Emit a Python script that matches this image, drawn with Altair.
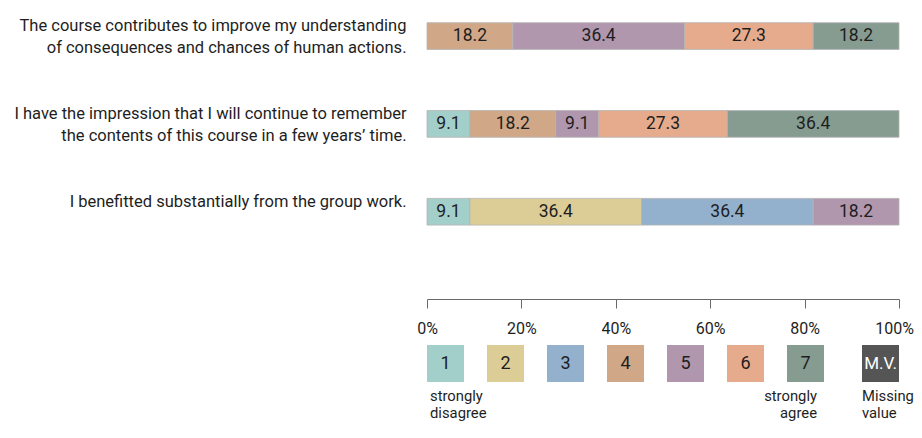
import altair as alt
import pandas as pd

FONT = "Roboto"

questions = [
    "The course contributes to improve my understanding|of consequences and chances of human actions.",
    "I have the impression that I will continue to remember|the contents of this course in a few years’ time.",
    "I benefitted substantially from the group work.",
]
q1_ratings = ["4", "5", "6", "7"]
q1_values = [18.2, 36.4, 27.3, 18.2]
q2_ratings = ["1", "4", "5", "6", "7"]
q2_values = [9.1, 18.2, 9.1, 27.3, 36.4]
q3_ratings = ["1", "2", "3", "5"]
q3_values = [9.1, 36.4, 36.4, 18.2]

rating_codes = ["1", "2", "3", "4", "5", "6", "7"]
rating_colors = ["#a3cfcb", "#dccd96", "#93b0cc", "#d0a888", "#b097ae", "#e6ab8d", "#869c91"]
legend_desc = ["strongly\ndisagree", "", "", "", "", "", "strongly\nagree"]
mv_code = ["M.V."]
mv_desc = ["Missing\nvalue"]
tick_values = [0, 0.2, 0.4, 0.6, 0.8, 1.0]

rows = []
for q, rs, vs in zip(questions, [q1_ratings, q2_ratings, q3_ratings], [q1_values, q2_values, q3_values]):
    for r, v in zip(rs, vs):
        rows.append({"question": q, "rating": r, "value": v, "order": int(r)})
df = pd.DataFrame(rows)

TXT = "#1e1e1e"
W, H = 472, 286
color_scale = alt.Scale(domain=rating_codes, range=rating_colors)
xq_scale = alt.Scale(domain=[0, 1])
yq_scale = alt.Scale(type="band", domain=questions, paddingInner=0.696, paddingOuter=0.4758, align=0.116)

# ---- stacked bars ----
base = alt.Chart(df)
bars = base.mark_bar(stroke="#b4b4b4", strokeWidth=0.8).encode(
    x=alt.X(
        "value:Q", stack="normalize", scale=xq_scale, title=None,
        axis=alt.Axis(
            format="%", values=tick_values, grid=False, domainColor="#6a6a6a", tickColor="#6a6a6a",
            tickSize=9, labelPadding=12, labelFontSize=16, labelColor=TXT, labelFlush=False,
            labelOffset={"condition": {"test": "datum.value == 1", "value": -5}, "value": 0},
        ),
    ),
    y=alt.Y(
        "question:N", sort=questions, scale=yq_scale,
        axis=alt.Axis(
            title=None, labelExpr="split(datum.label, '|')", ticks=False, domain=False,
            labelPadding=21, labelFontSize=16.5, labelLineHeight=22, labelOffset=-10,
            labelColor=TXT, labelLimit=0,
        ),
    ),
    color=alt.Color("rating:N", scale=color_scale, legend=None),
    order=alt.Order("order:Q", sort="ascending"),
)
labels = (
    base.transform_joinaggregate(total="sum(value)", groupby=["question"])
    .transform_window(cum="sum(value)", groupby=["question"], sort=[alt.SortField("order")], frame=[None, 0])
    .transform_calculate(mid="(datum.cum - datum.value/2)/datum.total")
    .mark_text(fontSize=17.5, color=TXT)
    .encode(
        x=alt.X("mid:Q", scale=xq_scale, axis=None),
        y=alt.Y("question:N", sort=questions, scale=yq_scale, axis=None),
        text=alt.Text("value:Q", format=".1f"),
    )
)

# ---- legend (own scales, below the axis) ----
leg_df = pd.DataFrame({"rating": rating_codes, "desc": legend_desc, "row": ["legend"] * len(rating_codes)})
mv_df = pd.DataFrame({"code": mv_code, "desc": mv_desc, "row": ["legend"]})

leg_x_scale = alt.Scale(type="band", domain=rating_codes, range=[0, 397], paddingInner=23 / 60, paddingOuter=0)
mv_x_scale = alt.Scale(type="band", domain=mv_code, range=[435, W], paddingInner=0, paddingOuter=0)
leg_y_scale = alt.Scale(type="band", domain=["legend"], range=[332, 369], paddingInner=0, paddingOuter=0)
DESC_Y = 388
DESC_LH = 17
DESC_FS = 14.8

leg_x = alt.X("rating:N", sort=rating_codes, scale=leg_x_scale, axis=None)
mv_x = alt.X("code:N", scale=mv_x_scale, axis=None)
leg_y = alt.Y("row:N", scale=leg_y_scale, axis=None)

leg_base = alt.Chart(leg_df)
leg_rect = leg_base.mark_rect().encode(
    x=leg_x, y=leg_y, color=alt.Color("rating:N", scale=color_scale, legend=None)
)
leg_num = leg_base.mark_text(fontSize=18, color=TXT).encode(x=leg_x, y=leg_y, text="rating:N")
leg_left = leg_base.transform_filter("datum.rating == '1'").mark_text(
    align="left", baseline="alphabetic", dx=-15.5, lineBreak="\n", fontSize=DESC_FS, lineHeight=DESC_LH, color=TXT
).encode(x=leg_x, y=alt.value(DESC_Y), text="desc:N")
leg_right = leg_base.transform_filter("datum.rating == '7'").mark_text(
    align="right", baseline="alphabetic", dx=11.5, lineBreak="\n", fontSize=DESC_FS, lineHeight=DESC_LH, color=TXT
).encode(x=leg_x, y=alt.value(DESC_Y), text="desc:N")

mv_base = alt.Chart(mv_df)
mv_rect = mv_base.mark_rect(color="#555555").encode(x=mv_x, y=leg_y)
mv_txt = mv_base.mark_text(fontSize=17, color="white").encode(x=mv_x, y=leg_y, text="code:N")
mv_lbl = mv_base.mark_text(
    align="left", baseline="alphabetic", dx=-18.5, lineBreak="\n", fontSize=DESC_FS, lineHeight=DESC_LH, color=TXT
).encode(x=mv_x, y=alt.value(DESC_Y), text="desc:N")

chart = (
    alt.layer(bars, labels, leg_rect, leg_num, leg_left, leg_right, mv_rect, mv_txt, mv_lbl)
    .resolve_scale(x="independent", y="independent", color="shared")
    .properties(
        width=W, height=H,
        autosize=alt.AutoSizeParams(type="none"),
        padding={"left": 419, "top": 5, "right": 15, "bottom": 123},
    )
    .configure(font=FONT)
    .configure_view(stroke=None)
)
chart.save("out.html", embed_options={"renderer": "svg", "actions": False})
